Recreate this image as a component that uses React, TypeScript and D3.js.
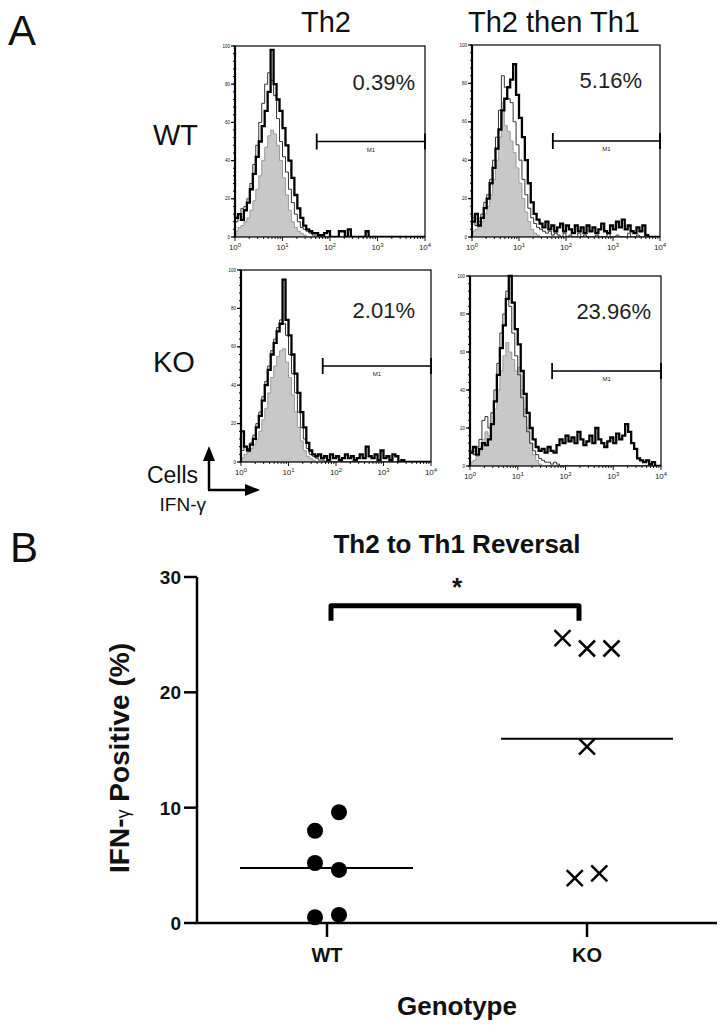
import React from "react";
import * as d3 from "d3";

const FONT = "'Liberation Sans', Arial, Helvetica, sans-serif";

// ---------- Panel A data ----------
const rowLabels = ["WT", "KO"];
const colLabels = ["Th2", "Th2 then Th1"];
const percentLabels = ["0.39%", "5.16%", "2.01%", "23.96%"];
const gateStartLog = 1.72;
const gateLevel = 50;
const decades = [0, 1, 2, 3, 4];
const countTicks = [0, 20, 40, 60, 80, 100];

// histogram counts (% of panel max), 64 log bins spanning 10^0..10^4
const grayWTTh2 = [3,5,6,8,10,14,19,25,32,40,47,53,56,54,48,40, 31,22,14,8,5,3,2,1,0,0,0,0,0,0,0,0, 0,0,0,0,0,0,0,0,0,0,0,0,0,0,0,0, 0,0,0,0,0,0,0,0,0,0,0,0,0,0,0,0];
const thinWTTh2 = [8,12,15,16,20,28,38,48,60,70,80,86,82,74,62,50, 42,34,25,18,12,8,5,4,3,2,1,1,0,0,0,0, 0,0,0,0,0,0,0,0,0,0,0,0,0,0,0,0, 0,0,0,0,0,0,0,0,0,0,0,0,0,0,0,0];
const thickWTTh2 = [10,12,9,14,18,25,33,42,50,58,66,76,98,80,72,66, 57,48,40,31,22,15,10,6,4,3,2,2,1,1,2,3, 0,0,0,3,3,0,4,0,0,0,0,0,3,0,0,0, 0,0,0,0,0,0,0,0,0,0,0,0,0,0,0,0];

const grayWTTh1 = [3,4,6,8,12,16,22,30,40,52,70,58,55,50,44,36, 28,20,13,8,4,2,1,0,0,0,0,0,0,0,0,0, 0,0,0,0,0,0,0,0,0,0,0,0,0,0,0,0, 0,0,0,0,0,0,0,0,0,0,0,0,0,0,0,0];
const thinWTTh1 = [10,6,8,12,18,22,30,40,52,66,84,78,72,70,60,48, 40,30,22,15,10,7,5,4,3,2,3,1,2,1,0,2, 0,1,0,0,2,0,1,0,0,0,1,0,0,0,2,0, 0,1,0,0,0,2,0,0,1,0,0,0,0,0,0,0];
const thickWTTh1 = [8,12,6,10,15,20,28,36,46,56,66,72,78,82,90,74, 62,52,40,28,18,12,9,7,5,8,4,6,3,5,7,3, 6,4,2,6,3,5,2,6,3,5,2,4,7,3,2,6, 4,8,5,9,4,6,3,2,5,3,6,1,0,0,0,0];

const grayKOTh2 = [2,4,5,7,9,12,16,22,28,36,44,50,55,58,59,52, 44,35,26,18,11,6,3,2,1,0,0,0,0,0,0,0, 0,0,0,0,0,0,0,0,0,0,0,0,0,0,0,0, 0,0,0,0,0,0,0,0,0,0,0,0,0,0,0,0];
const thinKOTh2 = [6,8,7,10,14,20,26,34,42,50,58,64,70,74,72,66, 56,46,36,26,18,12,7,4,3,2,1,1,0,0,0,0, 0,0,0,0,0,0,0,0,0,0,0,0,0,0,0,0, 0,0,0,0,0,0,0,0,0,0,0,0,0,0,0,0];
const thickKOTh2 = [16,8,6,9,12,18,24,32,40,48,56,62,68,72,95,74, 66,56,46,36,26,18,10,6,4,3,4,2,3,1,4,2, 3,1,2,4,2,3,1,2,4,2,8,3,2,4,1,6, 2,3,1,4,3,0,1,0,0,0,0,0,0,0,0,0];

const grayKOTh1 = [2,3,5,8,14,18,16,22,30,40,50,58,65,60,56,50, 52,40,30,20,12,6,3,1,0,0,0,0,0,0,0,0, 0,0,0,0,0,0,0,0,0,0,0,0,0,0,0,0, 0,0,0,0,0,0,0,0,0,0,0,0,0,0,0,0];
const thinKOTh1 = [8,6,10,14,24,26,20,28,40,54,70,80,92,84,70,58, 48,36,26,18,12,8,6,4,3,2,2,1,2,1,0,0, 0,0,0,0,0,0,0,0,0,0,0,0,0,0,0,0, 0,0,0,0,0,0,0,0,0,0,0,0,0,0,0,0];
const thickKOTh1 = [7,10,6,9,12,11,14,22,34,48,62,74,88,100,86,72, 64,50,38,28,20,14,10,8,9,7,10,8,7,11,14,12, 16,13,15,12,18,14,11,13,16,12,20,14,12,10,13,15, 12,17,14,16,22,18,12,9,4,3,2,3,1,2,0,0];

// ---------- Panel B data ----------
const genotypes = ["WT", "KO"];
const wtValues = [8.0, 9.6, 5.2, 4.6, 0.5, 0.7];
const koValues = [24.7, 23.8, 23.8, 15.3, 3.9, 4.3];
const yTicks = [0, 10, 20, 30];
const chartTitle = "Th2 to Th1 Reversal";

// ---------- layout ----------
const panelLayouts = [
  { x0: 235, x1: 425, y0: 46, y1: 237, pctRight: 415, pctBase: 90 },
  { x0: 472, x1: 660, y0: 45, y1: 237, pctRight: 642, pctBase: 88 },
  { x0: 241, x1: 431, y0: 270, y1: 462, pctRight: 415, pctBase: 318 },
  { x0: 470, x1: 661, y0: 276, y1: 466, pctRight: 651, pctBase: 319 },
];
const panelSeries = [
  [grayWTTh2, thinWTTh2, thickWTTh2],
  [grayWTTh1, thinWTTh1, thickWTTh1],
  [grayKOTh2, thinKOTh2, thickKOTh2],
  [grayKOTh1, thinKOTh1, thickKOTh1],
];

function Histogram({ idx }: { idx: number }) {
  const L = panelLayouts[idx];
  const [gray, thin, thick] = panelSeries[idx];
  const x = d3.scaleLog().domain([1, 1e4]).range([L.x0, L.x1]);
  const y = d3.scaleLinear().domain([0, 100]).range([L.y1, L.y0]);
  const n = gray.length;
  const edge = (i: number) => Math.pow(10, (i * 4) / n);
  const pts = (arr: number[]) => [
    ...arr.map((v, i) => [edge(i), v] as [number, number]),
    [edge(arr.length), arr[arr.length - 1]] as [number, number],
  ];
  const line = d3
    .line<[number, number]>()
    .x((d) => x(d[0]))
    .y((d) => y(d[1]))
    .curve(d3.curveStepAfter);
  const area = d3
    .area<[number, number]>()
    .x((d) => x(d[0]))
    .y0(L.y1)
    .y1((d) => y(d[1]))
    .curve(d3.curveStepAfter);
  const clipId = `clip${idx}`;
  const minorX: { v: number; major: boolean }[] = [];
  for (let k = 0; k < 4; k++) for (let m = 1; m <= 9; m++) minorX.push({ v: m * Math.pow(10, k), major: m === 1 });
  minorX.push({ v: 1e4, major: true });
  const minorY = d3.range(0, 101, 4);
  const gx0 = x(Math.pow(10, gateStartLog));
  const gx1 = x(1e4);
  const gy = y(gateLevel);
  return (
    <g>
      <defs>
        <clipPath id={clipId}>
          <rect x={L.x0} y={L.y0 - 2} width={L.x1 - L.x0} height={L.y1 - L.y0 + 2} />
        </clipPath>
      </defs>
      <g clipPath={`url(#${clipId})`}>
        <path d={area(pts(gray)) || ""} fill="#c8c8c8" stroke="#8a8a8a" strokeWidth={0.8} />
        <path d={line(pts(thin)) || ""} fill="none" stroke="#333" strokeWidth={1} />
        <path d={line(pts(thick)) || ""} fill="none" stroke="#000" strokeWidth={2.3} />
      </g>
      <rect x={L.x0} y={L.y0} width={L.x1 - L.x0} height={L.y1 - L.y0} fill="none" stroke="#000" strokeWidth={1.2} />
      <line x1={L.x0} x2={L.x0} y1={L.y0} y2={L.y1} stroke="#000" strokeWidth={2.2} />
      {minorY.map((t) => (
        <line key={`my${t}`} x1={L.x0 - 2} x2={L.x0} y1={y(t)} y2={y(t)} stroke="#000" strokeWidth={1} />
      ))}
      {countTicks.map((t) => (
        <g key={`cy${t}`}>
          <line x1={L.x0 - 4} x2={L.x0} y1={y(t)} y2={y(t)} stroke="#000" strokeWidth={1.2} />
          <text x={L.x0 - 5} y={y(t) + 1.5} fontSize={4.5} textAnchor="end" fontFamily={FONT} fill="#111">
            {t}
          </text>
        </g>
      ))}
      {minorX.map((t, i) => (
        <line key={`mx${i}`} x1={x(t.v)} x2={x(t.v)} y1={L.y1} y2={L.y1 + (t.major ? 4 : 2)} stroke="#000" strokeWidth={0.9} />
      ))}
      {decades.map((k) => (
        <text key={`xl${k}`} x={x(Math.pow(10, k))} y={L.y1 + 13} fontSize={8} textAnchor="middle" fontFamily={FONT} fill="#222">
          10<tspan dy={-3.5} fontSize={6}>{k}</tspan>
        </text>
      ))}
      <line x1={gx0} x2={gx1} y1={gy} y2={gy} stroke="#000" strokeWidth={1.5} />
      <line x1={gx0} x2={gx0} y1={gy - 8} y2={gy + 8} stroke="#000" strokeWidth={1.8} />
      <line x1={gx1} x2={gx1} y1={gy - 8} y2={gy + 8} stroke="#000" strokeWidth={1.8} />
      <text x={(gx0 + gx1) / 2} y={gy + 10} fontSize={6} textAnchor="middle" fontFamily={FONT} fill="#222">
        M1
      </text>
      <text x={L.pctRight} y={L.pctBase} fontSize={22} textAnchor="end" fontFamily={FONT} fill="#222">
        {percentLabels[idx]}
      </text>
    </g>
  );
}

function groupOffsets(values: number[], spacing: number, tol: number) {
  const offsets: number[] = new Array(values.length).fill(0);
  let i = 0;
  while (i < values.length) {
    let j = i + 1;
    while (j < values.length && Math.abs(values[j] - values[i]) < tol) j++;
    const size = j - i;
    for (let k = 0; k < size; k++) offsets[i + k] = (k - (size - 1) / 2) * spacing;
    i = j;
  }
  return offsets;
}

function ScatterB() {
  const y = d3.scaleLinear().domain([0, 30]).range([923, 577]);
  const x = d3.scalePoint<string>().domain(genotypes).range([197, 717]).padding(0.5);
  const xWT = x("WT") as number;
  const xKO = x("KO") as number;
  const wtOff = groupOffsets(wtValues, 24, 2);
  const koOff = groupOffsets(koValues, 24.5, 2);
  const wtMean = d3.mean(wtValues) as number;
  const koMean = d3.mean(koValues) as number;
  const cs = 8;
  const bracketY = y(27.5);
  const legY = y(26.2);
  return (
    <g fontFamily={FONT}>
      <text x={457} y={553} fontSize={26} fontWeight="bold" textAnchor="middle" fill="#111">
        {chartTitle}
      </text>
      <line x1={197} x2={197} y1={y(30)} y2={y(0)} stroke="#000" strokeWidth={2.5} />
      <line x1={196} x2={717} y1={y(0)} y2={y(0)} stroke="#000" strokeWidth={2.5} />
      {yTicks.map((t) => (
        <g key={t}>
          <line x1={184} x2={197} y1={y(t)} y2={y(t)} stroke="#000" strokeWidth={2.5} />
          <text x={181} y={y(t) + 7} fontSize={19} fontWeight="bold" textAnchor="end" fill="#111">
            {t}
          </text>
        </g>
      ))}
      {genotypes.map((g) => (
        <g key={g}>
          <line x1={x(g) as number} x2={x(g) as number} y1={y(0)} y2={y(0) + 14} stroke="#000" strokeWidth={2.5} />
          <text x={x(g) as number} y={962} fontSize={20} fontWeight="bold" textAnchor="middle" fill="#111">
            {g}
          </text>
        </g>
      ))}
      <text x={457} y={1015} fontSize={26} fontWeight="bold" textAnchor="middle" fill="#111">
        Genotype
      </text>
      <text transform={`translate(129,758) rotate(-90)`} fontSize={28} fontWeight="bold" textAnchor="middle" fill="#111">
        IFN-<tspan fontWeight="normal" fontSize={18}>γ</tspan> Positive (%)
      </text>
      <path
        d={`M${xWT + 4},${legY} L${xWT + 4},${bracketY} L${xKO - 8},${bracketY} L${xKO - 8},${legY}`}
        fill="none"
        stroke="#000"
        strokeWidth={5}
        strokeLinejoin="round"
      />
      <text x={457} y={596} fontSize={26} fontWeight="bold" textAnchor="middle" fill="#111">
        *
      </text>
      {wtValues.map((v, i) => (
        <circle key={`w${i}`} cx={xWT + wtOff[i]} cy={y(v)} r={8} fill="#000" />
      ))}
      <line x1={xWT - 87} x2={xWT + 86} y1={y(wtMean)} y2={y(wtMean)} stroke="#000" strokeWidth={2} />
      {koValues.map((v, i) => {
        const cx = xKO + koOff[i];
        const cy = y(v);
        return (
          <g key={`k${i}`} stroke="#000" strokeWidth={2.5}>
            <line x1={cx - cs} x2={cx + cs} y1={cy - cs} y2={cy + cs} />
            <line x1={cx - cs} x2={cx + cs} y1={cy + cs} y2={cy - cs} />
          </g>
        );
      })}
      <line x1={xKO - 86} x2={xKO + 86} y1={y(koMean)} y2={y(koMean)} stroke="#000" strokeWidth={2} />
    </g>
  );
}

export default function App() {
  return (
    <svg width={728} height={1034} style={{ position: "absolute", left: 0, top: 0, background: "#fff" }}>
      <rect width={728} height={1034} fill="#fff" />
      <text x={8} y={45} fontSize={42} fontFamily={FONT} fill="#111">A</text>
      <text x={10} y={562} fontSize={42} fontFamily={FONT} fill="#111">B</text>
      <text x={326} y={32} fontSize={29} textAnchor="middle" fontFamily={FONT} fill="#111">{colLabels[0]}</text>
      <text x={554} y={32} fontSize={29} textAnchor="middle" fontFamily={FONT} fill="#111">{colLabels[1]}</text>
      <text x={153} y={145} fontSize={29} fontFamily={FONT} fill="#111">{rowLabels[0]}</text>
      <text x={153} y={372} fontSize={29} fontFamily={FONT} fill="#111">{rowLabels[1]}</text>
      {[0, 1, 2, 3].map((i) => (
        <Histogram key={i} idx={i} />
      ))}
      <g stroke="#000" strokeWidth={2.5}>
        <line x1={209} x2={209} y1={490} y2={458} />
        <line x1={208} x2={248} y1={490} y2={490} />
      </g>
      <polygon points="203,461 209,446 215,461" fill="#000" />
      <polygon points="245,484 260,490 245,496" fill="#000" />
      <text x={198} y={483} fontSize={23} textAnchor="end" fontFamily={FONT} fill="#111">Cells</text>
      <text x={206} y={511} fontSize={19} textAnchor="end" fontFamily={FONT} fill="#111">IFN-γ</text>
      <ScatterB />
    </svg>
  );
}
